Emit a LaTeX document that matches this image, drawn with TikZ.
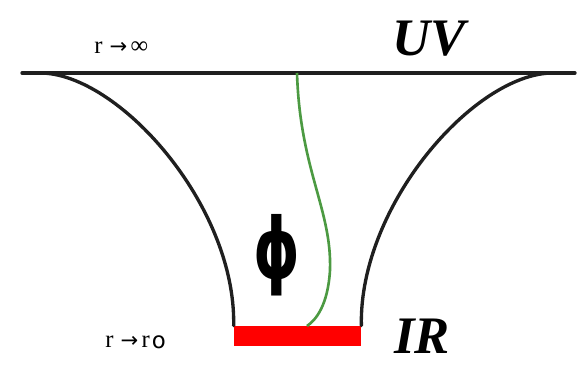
\documentclass[tikz,border=0pt]{standalone}
\usepackage{amsmath}
\usepackage{fontspec}
\setmainfont{Liberation Serif}
\newfontfamily\glyphfont{DejaVu Sans}
\usepackage{tikz}
\usetikzlibrary{positioning, calc}
\usepackage{xcolor}
\definecolor{fieldgreen}{RGB}{76,154,66}
\newcommand{\toarrow}{\hspace{0.14cm}{\glyphfont\fontsize{12}{14}\selectfont →}\hspace{0.07cm}}

\begin{document}
\begin{tikzpicture}[
  x=0.02cm, y=-0.02cm,
  wall/.style={line width=1.9pt, draw=black!88, line cap=round},
  flow/.style={line width=1.5pt, draw=fieldgreen},
  field label/.style={font=\glyphfont\bfseries\fontsize{48}{52}\selectfont, inner sep=0pt},
  scale label/.style={font=\fontsize{30}{32}\selectfont\bfseries\itshape, inner sep=0pt},
  limit/.style={font=\fontsize{14}{16}\selectfont, inner sep=0pt}
]
  \useasboundingbox (0,0) rectangle (587,365);

  % boundary and horizon
  \coordinate (uvL) at (22,73);
  \coordinate (uvR) at (575,73);
  \coordinate (mouthL) at (40,73);
  \coordinate (mouthR) at (553,73);
  \coordinate (fieldtop) at (297,73);
  \coordinate (fieldend) at (307,326);
  \node[fill=red, minimum width=2.54cm, minimum height=0.4cm,
        inner sep=0pt] (ir) at (297.5,336) {};

  \draw[wall] (uvL) -- (uvR);
  \draw[wall] (mouthL) .. controls (118,73) and (236,205) .. (ir.north west);
  \draw[wall] (mouthR) .. controls (475,73) and (359,205) .. (ir.north east);

  % scalar profile
  \draw[flow] (fieldtop) .. controls (300,170) and (332,210) .. (330,270)
              .. controls (328,305) and (316,320) .. (fieldend);

  \node[field label] (fieldsym) at (277,255) {\scalebox{0.7}[1]{ϕ}};

  \node[scale label, anchor=base west] (uv) at (392,55) {UV};
  \node[scale label, anchor=base west] (irlab) at (394,353) {IR};
  \node[limit, anchor=base west] (rinf) at (94,53) {r\toarrow ∞};
  \node[limit, anchor=base west] (rzero) at (105,347)
       {r\toarrow r\hspace{0.04cm}\raisebox{-0.1ex}{\glyphfont\fontsize{13}{14}\selectfont o}};
\end{tikzpicture}
\end{document}
